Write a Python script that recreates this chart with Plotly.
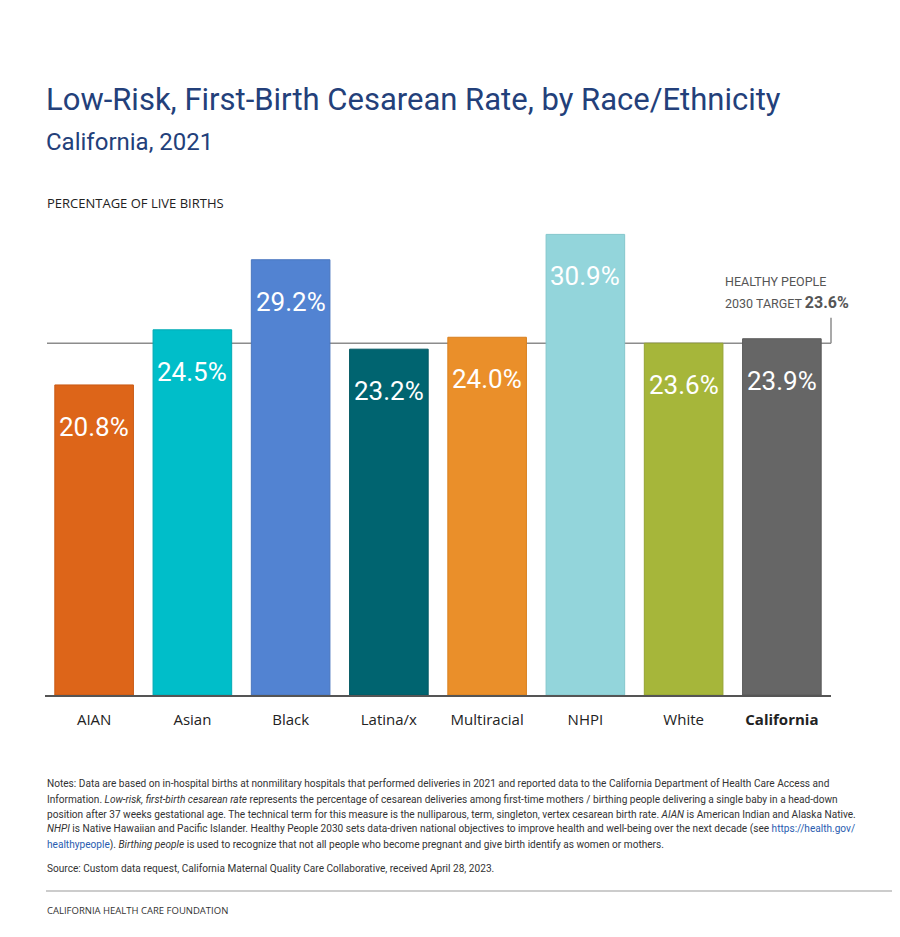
import plotly.graph_objects as go

categories = ["AIAN", "Asian", "Black", "Latina/x", "Multiracial", "NHPI", "White", "California"]
tick_labels = ["AIAN", "Asian", "Black", "Latina/x", "Multiracial", "NHPI", "White", "<b>California</b>"]
values = [20.8, 24.5, 29.2, 23.2, 24.0, 30.9, 23.6, 23.9]
bar_colors = ["#dd6519", "#00bec9", "#5283d2", "#006470", "#ea8f2a", "#93d5db", "#a6b63a", "#666666"]
bar_edges = ["#c95a14", "#00aab4", "#4a76bf", "#005862", "#d98020", "#84c6cc", "#95a432", "#5a5a5a"]
TARGET = 23.6
TARGET_LABEL_LEVEL = 25.3

FONT = "Roboto, sans-serif"

OFF = 8  # page body margin
W, H = 892, 929
L, R, T, B = 37, 69, 210, 242
PW, PH = W - L - R, H - T - B


def px(x):
    return (x - OFF - L) / PW


def py(y):
    return (H - B - (y - OFF)) / PH


fig = go.Figure()
fig.add_trace(go.Bar(
    x=categories, y=values,
    marker=dict(color=bar_colors, line=dict(color=bar_edges, width=1)),
    width=0.8, hoverinfo="skip", showlegend=False,
))

# value labels inside bars
for c, v in zip(categories, values):
    fig.add_annotation(x=c, y=v, xref="x", yref="y", text=f"{v:.1f}%",
                       showarrow=False, yanchor="top", yshift=-25,
                       font=dict(family=FONT, size=26, color="white"))

# target line
fig.add_shape(type="line", xref="paper", yref="y", x0=px(47), x1=1, y0=TARGET, y1=TARGET,
              line=dict(color="#8c8c8c", width=1.5), layer="below")
fig.add_shape(type="line", xref="paper", yref="y", x0=1, x1=1, y0=TARGET, y1=TARGET_LABEL_LEVEL,
              line=dict(color="#8c8c8c", width=1.5), layer="above")
fig.add_trace(go.Scatter(x=[7.5], y=[TARGET_LABEL_LEVEL], mode="markers",
                         marker=dict(symbol="square", size=6, color="#8c8c8c"),
                         hoverinfo="skip", showlegend=False, cliponaxis=False))

fig.add_annotation(xref="paper", yref="paper", x=px(723), y=py(281), xanchor="left", yanchor="middle",
                   text="HEALTHY PEOPLE", showarrow=False,
                   font=dict(family=FONT, size=12.5, color="#555555"))
fig.add_annotation(xref="paper", yref="paper", x=px(723), y=py(302), xanchor="left", yanchor="middle",
                   text=f"2030 TARGET <b><span style='font-size:16px'>{TARGET}%</span></b>", showarrow=False,
                   font=dict(family=FONT, size=12.5, color="#555555"))

# titles
fig.add_annotation(xref="paper", yref="paper", x=px(44), y=py(100), xanchor="left", yanchor="middle",
                   text="Low-Risk, First-Birth Cesarean Rate, by Race/Ethnicity", showarrow=False,
                   font=dict(family=FONT, size=31, color="#23407a"))
fig.add_annotation(xref="paper", yref="paper", x=px(44), y=py(142), xanchor="left", yanchor="middle",
                   text="California, 2021", showarrow=False,
                   font=dict(family=FONT, size=24, color="#23407a"))
fig.add_annotation(xref="paper", yref="paper", x=px(45), y=py(203), xanchor="left", yanchor="middle",
                   text="PERCENTAGE OF LIVE BIRTHS", showarrow=False,
                   font=dict(family="Open Sans, sans-serif", size=13, color="#222222"))

LINK = "<span style='color:#2a5db0'>{}</span>"
notes = [
    "Notes: Data are based on in-hospital births at nonmilitary hospitals that performed deliveries in 2021 and reported data to the California Department of Health Care Access and",
    "Information. <i>Low-risk, first-birth cesarean rate</i> represents the percentage of cesarean deliveries among first-time mothers / birthing people delivering a single baby in a head-down",
    "position after 37 weeks gestational age. The technical term for this measure is the nulliparous, term, singleton, vertex cesarean birth rate. <i>AIAN</i> is American Indian and Alaska Native.",
    "<i>NHPI</i> is Native Hawaiian and Pacific Islander. Healthy People 2030 sets data-driven national objectives to improve health and well-being over the next decade (see " + LINK.format("https://health.gov/"),
    LINK.format("healthypeople") + "). <i>Birthing people</i> is used to recognize that not all people who become pregnant and give birth identify as women or mothers.",
]
note_y = [783, 799, 814, 829, 845]
for t, y in zip(notes, note_y):
    fig.add_annotation(xref="paper", yref="paper", x=px(45), y=py(y), xanchor="left", yanchor="middle",
                       text=t, showarrow=False, font=dict(family=FONT, size=10.1, color="#333333"))
fig.add_annotation(xref="paper", yref="paper", x=px(45), y=py(868), xanchor="left", yanchor="middle",
                   text="Source: Custom data request, California Maternal Quality Care Collaborative, received April 28, 2023.",
                   showarrow=False, font=dict(family=FONT, size=10.1, color="#333333"))

fig.add_shape(type="line", xref="paper", yref="paper", x0=px(46), x1=px(900), y0=py(891), y1=py(891),
              line=dict(color="#999999", width=1))
fig.add_annotation(xref="paper", yref="paper", x=px(45), y=py(910), xanchor="left", yanchor="middle",
                   text="CALIFORNIA HEALTH CARE FOUNDATION", showarrow=False,
                   font=dict(family="Open Sans, sans-serif", size=9.5, color="#333333"))

fig.update_layout(
    width=W, height=H,
    margin=dict(l=L, r=R, t=T, b=B, autoexpand=False),
    plot_bgcolor="white", paper_bgcolor="white",
    bargap=0.2,
    xaxis=dict(tickmode="array", tickvals=categories, ticktext=tick_labels,
               range=[-0.5, 7.5], showline=True, linecolor="#555555", linewidth=1.5,
               ticks="outside", ticklen=10, tickcolor="rgba(0,0,0,0)",
               tickfont=dict(family="Open Sans, sans-serif", size=15, color="#222222"),
               showgrid=False, fixedrange=True),
    yaxis=dict(range=[0, 32], visible=False, showgrid=False, fixedrange=True),
)

fig.write_html("out.html")
